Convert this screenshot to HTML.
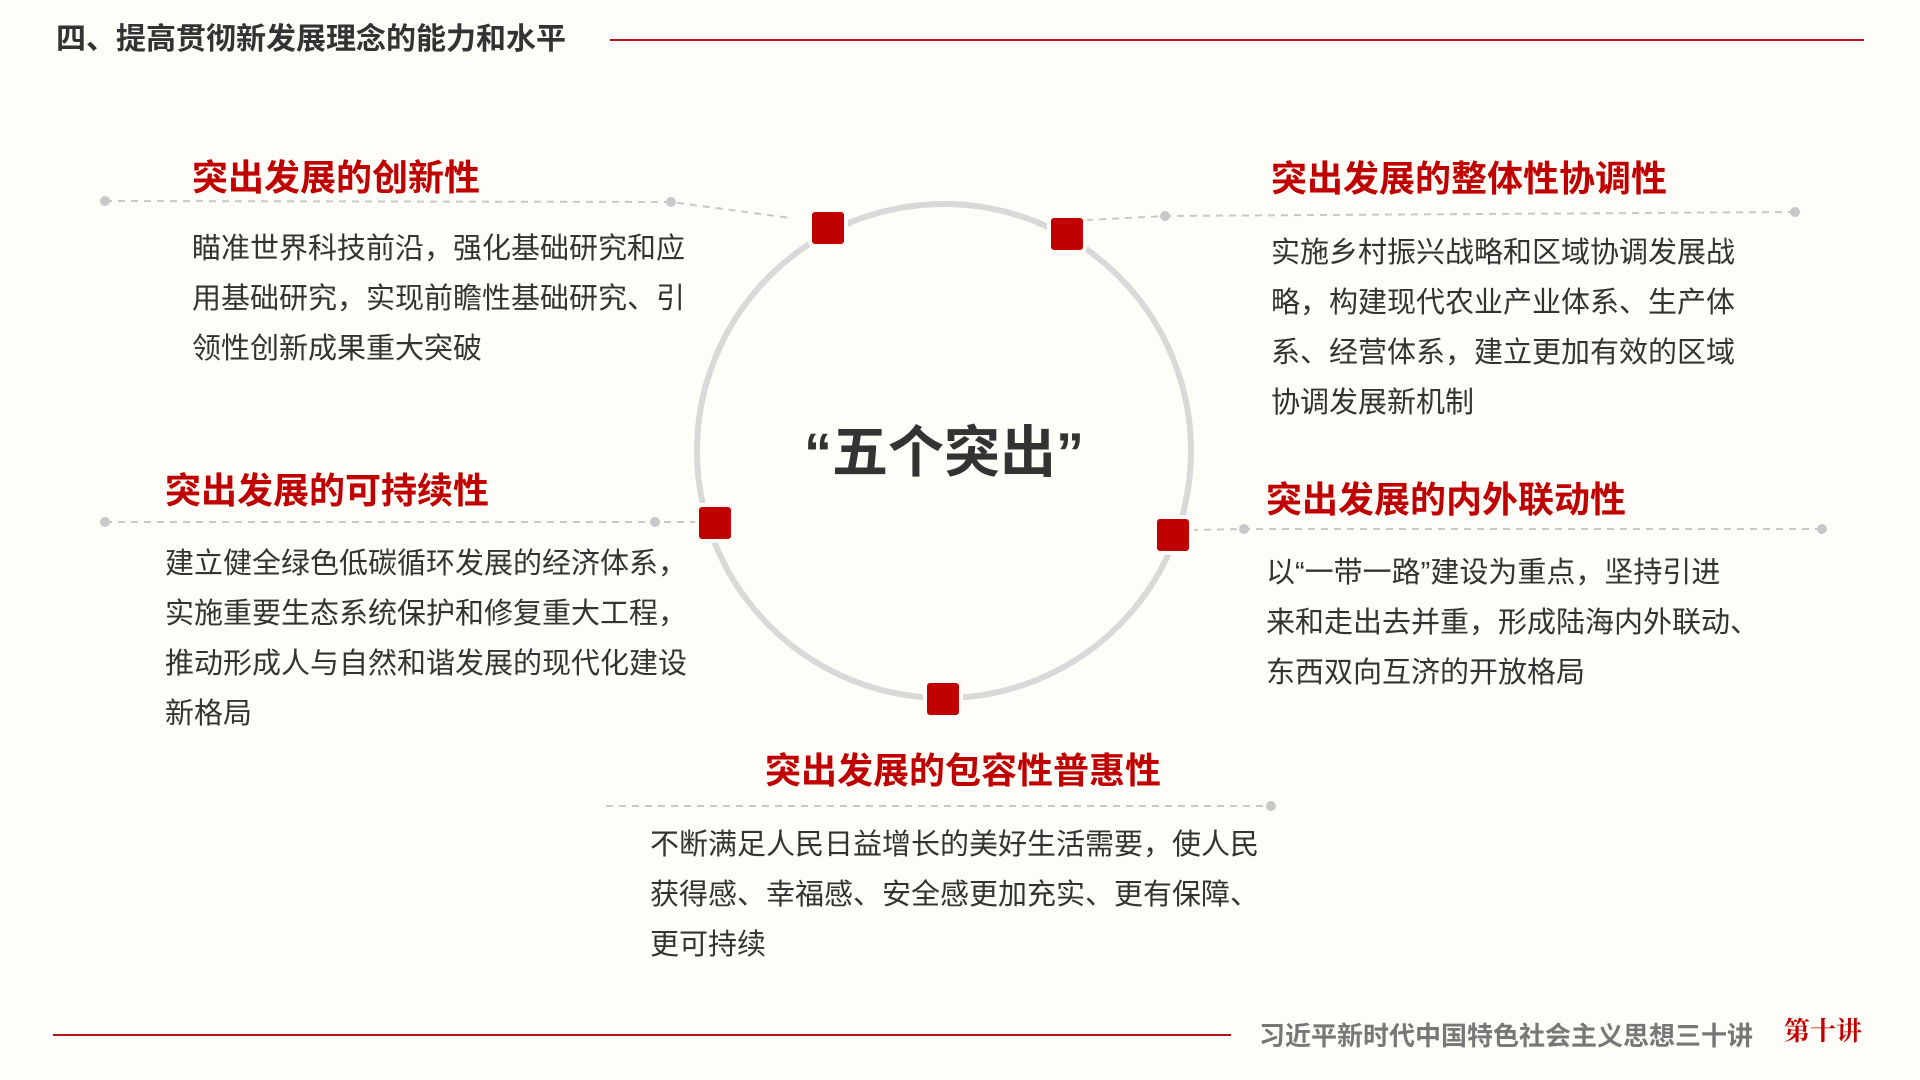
<!DOCTYPE html>
<html><head><meta charset="utf-8"><style>
html,body{margin:0;padding:0;}
body{width:1920px;height:1080px;background:#fffdf7;position:relative;overflow:hidden;font-family:"Liberation Sans","Noto Sans CJK SC",sans-serif;}
.a{position:absolute;white-space:nowrap;}
.t{color:#c00000;font-weight:bold;font-size:36px;line-height:40px;}
.b{color:#333;font-size:29px;line-height:50px;}
</style></head><body>
<div class="a" style="left:56px;top:22px;font-size:30px;font-weight:bold;color:#333;line-height:36px;">四、提高贯彻新发展理念的能力和水平</div>
<div class="a" style="left:610px;top:39px;width:1254px;height:2px;background:#b5121b;"></div>
<svg class="a" style="left:0;top:0" width="1920" height="1080">
<circle cx="944" cy="451" r="247" fill="none" stroke="#d9d9d9" stroke-width="6"/>
<g stroke="#c8c8c8" stroke-width="2" stroke-dasharray="7,6" fill="none">
<polyline points="105,201 671,202 791,218"/>
<polyline points="1795,212 1165,216 1087,220"/>
<polyline points="105,522 655,522 700,522"/>
<polyline points="1822,529 1244,529 1194,530"/>
<polyline points="606,806 1271,806"/>
</g>
<g fill="#c8c8c8">
<circle cx="105" cy="201" r="5"/><circle cx="671" cy="202" r="5"/>
<circle cx="1795" cy="212" r="5"/><circle cx="1165" cy="216" r="5"/>
<circle cx="105" cy="522" r="5"/><circle cx="655" cy="522" r="5"/>
<circle cx="1822" cy="529" r="5"/><circle cx="1244" cy="529" r="5"/>
<circle cx="1271" cy="806" r="5"/>
</g>
<g fill="#c00000" stroke="#fffdf7" stroke-width="4">
<rect x="810" y="210" width="36" height="36" rx="5"/>
<rect x="1049" y="216" width="36" height="36" rx="5"/>
<rect x="697" y="505" width="36" height="36" rx="5"/>
<rect x="1155" y="517" width="36" height="36" rx="5"/>
<rect x="925" y="681" width="36" height="36" rx="5"/>
</g>
<text x="944" y="472" text-anchor="middle" font-size="56" font-weight="bold" fill="#333" font-family="Liberation Sans, Noto Sans CJK SC, sans-serif">“五个突出”</text>
</svg>
<div class="a t" style="left:192px;top:158px;">突出发展的创新性</div>
<div class="a t" style="left:1271px;top:159px;">突出发展的整体性协调性</div>
<div class="a t" style="left:165px;top:471px;">突出发展的可持续性</div>
<div class="a t" style="left:1266px;top:480px;">突出发展的内外联动性</div>
<div class="a t" style="left:765px;top:751px;">突出发展的包容性普惠性</div>
<div class="a b" style="left:192px;top:224px;">瞄准世界科技前沿，强化基础研究和应<br>用基础研究，实现前瞻性基础研究、引<br>领性创新成果重大突破</div>
<div class="a b" style="left:1271px;top:228px;">实施乡村振兴战略和区域协调发展战<br>略，构建现代农业产业体系、生产体<br>系、经营体系，建立更加有效的区域<br>协调发展新机制</div>
<div class="a b" style="left:165px;top:539px;">建立健全绿色低碳循环发展的经济体系，<br>实施重要生态系统保护和修复重大工程，<br>推动形成人与自然和谐发展的现代化建设<br>新格局</div>
<div class="a b" style="left:1266px;top:548px;">以“一带一路”建设为重点，坚持引进<br>来和走出去并重，形成陆海内外联动、<br>东西双向互济的开放格局</div>
<div class="a b" style="left:650px;top:820px;">不断满足人民日益增长的美好生活需要，使人民<br>获得感、幸福感、安全感更加充实、更有保障、<br>更可持续</div>
<div class="a" style="left:53px;top:1034px;width:1178px;height:2px;background:#b5121b;"></div>
<div class="a" style="left:1259px;top:1020px;font-size:26px;font-weight:bold;color:#777;line-height:32px;">习近平新时代中国特色社会主义思想三十讲</div>
<div class="a" style="left:1784px;top:1014px;font-size:26px;font-weight:bold;color:#c00000;line-height:32px;font-family:'Noto Serif CJK SC',serif;">第十讲</div>
</body></html>
